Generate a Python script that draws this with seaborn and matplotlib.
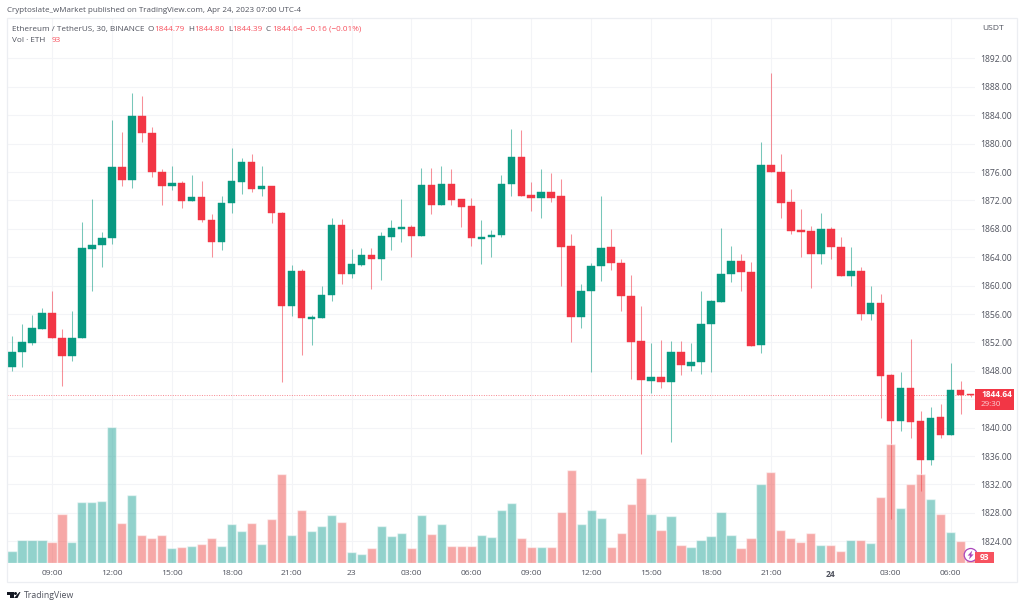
import matplotlib
matplotlib.use('Agg')
import matplotlib.pyplot as plt
from matplotlib.patches import Rectangle, Circle, Polygon
import seaborn as sns
import numpy as np
import pandas as pd

# ETH/USDT 30 min candles
opens = [1848.6, 1850.6, 1851.9, 1853.9, 1856.2, 1852.7, 1850.1, 1852.6, 1865.2, 1865.7,
         1866.7, 1876.7, 1874.9, 1883.9, 1881.5, 1876.0, 1874.1, 1874.5, 1871.9, 1872.5,
         1869.3, 1866.1, 1871.6, 1874.6, 1877.4, 1873.6, 1874.1, 1870.3, 1857.2, 1862.0,
         1855.3, 1855.5, 1858.7, 1868.6, 1861.7, 1862.9, 1864.3, 1863.8, 1866.9, 1868.0,
         1868.3, 1867.0, 1874.2, 1871.3, 1874.3, 1872.2, 1871.2, 1866.6, 1866.8, 1867.1,
         1874.3, 1878.1, 1872.8, 1872.3, 1873.2, 1872.6, 1865.6, 1855.6, 1859.2, 1862.8,
         1865.4, 1863.2, 1858.5, 1852.2, 1846.6, 1847.2, 1846.4, 1850.7, 1848.7, 1849.2,
         1854.6, 1857.7, 1861.6, 1863.5, 1861.9, 1851.6, 1877.0, 1876.0, 1871.8, 1867.8,
         1867.7, 1864.5, 1868.0, 1865.4, 1861.3, 1862.1, 1856.0, 1857.5, 1847.4, 1841.0,
         1845.6, 1840.9, 1835.4, 1841.5, 1839.0, 1845.3, 1844.79]
highs = [1852.9, 1854.6, 1855.9, 1856.9, 1859.3, 1853.9, 1856.4, 1868.9, 1872.2, 1867.5,
         1883.4, 1881.6, 1887.2, 1886.7, 1882.3, 1876.5, 1876.9, 1874.8, 1875.6, 1874.8,
         1870.1, 1872.7, 1879.4, 1878.0, 1878.6, 1876.9, 1874.1, 1870.4, 1862.9, 1862.3,
         1855.9, 1860.0, 1869.5, 1869.4, 1865.2, 1865.3, 1865.3, 1867.5, 1869.2, 1872.2,
         1868.5, 1876.6, 1876.6, 1876.9, 1876.4, 1872.2, 1872.4, 1869.3, 1867.9, 1875.6,
         1882.0, 1881.9, 1874.6, 1876.5, 1875.9, 1875.0, 1867.3, 1860.2, 1863.2, 1872.6,
         1868.0, 1863.8, 1861.5, 1857.2, 1851.9, 1852.3, 1852.2, 1852.2, 1851.9, 1859.3,
         1858.0, 1868.1, 1865.6, 1864.5, 1863.3, 1880.3, 1889.9, 1878.5, 1873.6, 1870.8,
         1868.4, 1870.2, 1868.3, 1866.9, 1865.5, 1862.7, 1860.0, 1858.8, 1847.6, 1847.9,
         1852.5, 1842.4, 1842.9, 1843.4, 1849.1, 1846.6, 1844.80]
lows = [1848.0, 1848.6, 1851.6, 1853.9, 1852.7, 1845.9, 1849.4, 1852.6, 1859.3, 1862.7,
        1865.9, 1874.0, 1873.7, 1880.3, 1875.3, 1871.3, 1873.5, 1871.0, 1871.9, 1869.0,
        1864.1, 1865.0, 1870.2, 1872.9, 1873.2, 1872.7, 1868.8, 1846.5, 1855.7, 1850.3,
        1851.6, 1855.4, 1857.9, 1860.2, 1861.1, 1862.8, 1859.5, 1860.8, 1865.0, 1866.1,
        1864.1, 1867.0, 1870.1, 1871.3, 1871.3, 1868.2, 1865.6, 1863.1, 1864.1, 1866.9,
        1872.6, 1872.7, 1870.5, 1869.5, 1871.8, 1859.9, 1852.0, 1854.0, 1847.9, 1860.7,
        1862.2, 1856.5, 1846.9, 1836.3, 1844.9, 1845.6, 1838.0, 1847.4, 1848.0, 1847.5,
        1847.9, 1857.7, 1860.5, 1859.2, 1851.5, 1850.5, 1876.0, 1869.5, 1867.3, 1864.0,
        1859.7, 1863.0, 1863.8, 1861.3, 1859.9, 1855.2, 1855.1, 1841.3, 1827.2, 1839.5,
        1838.5, 1831.1, 1834.7, 1838.5, 1839.0, 1841.9, 1844.39]
closes = [1850.7, 1852.0, 1854.0, 1856.2, 1852.7, 1850.1, 1852.6, 1865.3, 1865.7, 1866.7,
          1876.7, 1874.9, 1883.9, 1881.5, 1876.0, 1874.1, 1874.4, 1871.9, 1872.5, 1869.2,
          1866.1, 1871.6, 1874.7, 1877.4, 1873.6, 1874.1, 1870.2, 1857.2, 1862.0, 1855.4,
          1855.6, 1858.7, 1868.6, 1861.7, 1863.1, 1864.3, 1863.8, 1867.0, 1868.1, 1868.3,
          1867.0, 1874.2, 1871.3, 1874.3, 1872.1, 1871.1, 1866.7, 1866.8, 1867.1, 1874.3,
          1878.1, 1872.7, 1872.3, 1873.2, 1872.4, 1865.5, 1855.6, 1859.2, 1862.8, 1865.3,
          1863.2, 1858.5, 1852.1, 1846.7, 1847.2, 1846.4, 1850.7, 1848.8, 1849.3, 1854.6,
          1857.8, 1861.7, 1863.5, 1861.9, 1851.5, 1877.0, 1876.0, 1871.7, 1867.7, 1867.6,
          1864.5, 1868.0, 1865.4, 1861.3, 1862.1, 1856.0, 1857.5, 1847.3, 1841.0, 1845.6,
          1840.8, 1835.4, 1841.4, 1839.0, 1845.3, 1844.6, 1844.64]
volumes = [166, 310, 320, 310, 292, 666, 292, 832, 832, 842,
           1836, 544, 918, 378, 342, 387, 207, 220, 230, 266,
           342, 238, 536, 441, 544, 256, 594, 1210, 387, 724,
           441, 500, 657, 562, 153, 130, 207, 500, 369, 414,
           207, 648, 396, 536, 234, 234, 234, 378, 356, 724,
           819, 338, 225, 216, 216, 693, 1256, 536, 716, 612,
           216, 405, 796, 1152, 666, 450, 639, 243, 225, 310,
           369, 693, 387, 207, 346, 1071, 1228, 450, 338, 284,
           414, 252, 252, 171, 310, 320, 274, 891, 1606, 752,
           1071, 1206, 864, 666, 423, 302, 93]

tick_idx = [4, 10, 16, 22, 28, 34, 40, 46, 52, 58, 64, 70, 76, 82, 88, 94]
tick_labels = ['09:00', '12:00', '15:00', '18:00', '21:00', '23', '03:00', '06:00',
               '09:00', '12:00', '15:00', '18:00', '21:00', '24', '03:00', '06:00']
price_ticks = [1824, 1828, 1832, 1836, 1840, 1844, 1848, 1852, 1856, 1860, 1864,
               1868, 1872, 1876, 1880, 1884, 1888, 1892]

GREEN = '#089981'
RED = '#f23645'
TEXT = '#50535e'
GRID = '#f3f4f7'
FONT = 'Open Sans'

df = pd.DataFrame({'open': opens, 'high': highs, 'low': lows, 'close': closes, 'vol': volumes})
df['idx'] = np.arange(len(df))
df['dir'] = np.where(df['close'] >= df['open'], 'up', 'down')

sns.set_theme(style='white')
plt.rcParams['font.family'] = [FONT, 'DejaVu Sans']

W, H = 1024, 607
fig = plt.figure(figsize=(W / 100, H / 100), dpi=100)

# plot box in pixels
left, right, top, bottom = 7, 975, 18, 563.3
pos = [left / W, 1 - bottom / H, (right - left) / W, (bottom - top) / H]
xlim = (-0.5, 96.44)
ylim = (1820.9, 1897.7)

ax = fig.add_axes(pos)
ax.set_xlim(*xlim)
ax.set_ylim(*ylim)

# wicks and bodies
for d, col in [('up', GREEN), ('down', RED)]:
    sub = df[df['dir'] == d]
    ax.vlines(sub['idx'], sub['low'], sub['high'], color=col, lw=0.75, alpha=0.55, zorder=3)
    ax.bar(sub['idx'], (sub['close'] - sub['open']).abs(), bottom=sub[['open', 'close']].min(axis=1),
           width=0.75, color=col, edgecolor=col, linewidth=0.3, zorder=4)

ax.axhline(closes[-1], color=RED, lw=0.7, ls=(0, (1, 1.5)), alpha=0.6, zorder=2)

ax.set_xticks(tick_idx)
ax.set_xticklabels(tick_labels)
ax.set_yticks(price_ticks)
# the 1844 label sits under the last price box
ax.set_yticklabels(['' if p == 1844 else f'{p:.2f}' for p in price_ticks])
ax.yaxis.tick_right()
ax.grid(True, color=GRID, lw=0.8)
ax.set_axisbelow(True)
ax.tick_params(axis='x', length=0, pad=4.5, labelsize=6.1, labelcolor=TEXT)
ax.tick_params(axis='y', length=0, pad=4.1, labelsize=6.2, labelcolor=TEXT)
ax.get_xticklabels()[13].set_fontweight('bold')
sns.despine(ax=ax, left=True, right=True, top=True, bottom=True)
ax.set_xlabel('')
ax.set_ylabel('')

# volume pane on top, see-through like the original
ax_vol = fig.add_axes(pos)
ax_vol.patch.set_visible(False)
sns.barplot(data=df, x='idx', y='vol', hue='dir', palette={'up': '#26a69a', 'down': '#ef5350'},
            native_scale=True, dodge=False, width=0.92, saturation=1, alpha=0.5,
            legend=False, ax=ax_vol)
ax_vol.set_xlim(*xlim)
ax_vol.set_ylim(0, 7360)
ax_vol.axis('off')

# overlay in pixel coordinates for header, boxes and logo
ov = fig.add_axes([0, 0, 1, 1], zorder=10)
ov.set_xlim(0, W)
ov.set_ylim(H, 0)
ov.axis('off')
ov.add_patch(Rectangle((7, 18), 1010, 564, fill=False, edgecolor='#eceef2', lw=0.9))

ov.text(7, 10, 'Cryptoslate_wMarket published on TradingView.com, Apr 24, 2023 07:00 UTC-4',
        fontsize=5.75, color=TEXT, va='center')
ov.text(12.5, 29.5, 'Ethereum / TetherUS, 30, BINANCE', fontsize=5.9, color=TEXT, va='center')
for x, lab, val in [(148, 'O', '1844.79'), (188, 'H', '1844.80'), (228, 'L', '1844.39'), (266, 'C', '1844.64')]:
    ov.text(x, 29.5, lab, fontsize=5.9, color=TEXT, va='center')
    ov.text(x + 6 if lab != 'L' else x + 4.7, 29.5, val, fontsize=5.9, color='#f7525f', va='center')
ov.text(306, 29.5, '\u22120.16 (\u22120.01%)', fontsize=5.9, color='#f7525f', va='center')
ov.text(12.5, 41, 'Vol \u00b7 ETH', fontsize=5.9, color=TEXT, va='center')
ov.text(51.5, 41, '93', fontsize=5.9, color='#f7525f', va='center')
ov.text(982, 28.5, 'USDT', fontsize=6.1, color=TEXT, va='center')

# last price and volume boxes
py = top + (ylim[1] - closes[-1]) * (bottom - top) / (ylim[1] - ylim[0])
ov.add_patch(Circle((970.7, 555), 6.5, facecolor='white', edgecolor='#ab47bc', lw=0.9))
ov.add_patch(Polygon([(972.3, 550.5), (967.6, 555.6), (970, 555.6), (969, 559.5), (973.6, 554.4), (971.2, 554.4)],
                     color='#ab47bc', lw=0))
ov.add_patch(Rectangle((975, py - 6), 39, 21, color=RED, lw=0))
ov.text(981, py - 0.6, f'{closes[-1]:.2f}', fontsize=6, color='white', va='center', fontweight='bold')
ov.text(981, py + 10, '29:30', fontsize=5.8, color='#fbd0d4', va='center')
ov.add_patch(Rectangle((975, 552), 19, 11, color='#f7525f', lw=0))
ov.text(984.5, 557.5, str(volumes[-1]), fontsize=6, color='white', ha='center', va='center', fontweight='bold')

# TradingView logo
ov.add_patch(Polygon([(7, 592), (13.5, 592), (13.5, 598), (10, 598), (10, 595), (7, 595)], color='#131722', lw=0))
ov.add_patch(Circle((15.5, 593.5), 1.5, color='#131722', lw=0))
ov.add_patch(Polygon([(19.5, 592), (20.5, 592), (17.5, 598), (14, 598)], color='#131722', lw=0))
ov.text(23.5, 595, 'TradingView', fontsize=6.3, color='#50535e', va='center')

fig.savefig('out.png', dpi=100, facecolor='white')
